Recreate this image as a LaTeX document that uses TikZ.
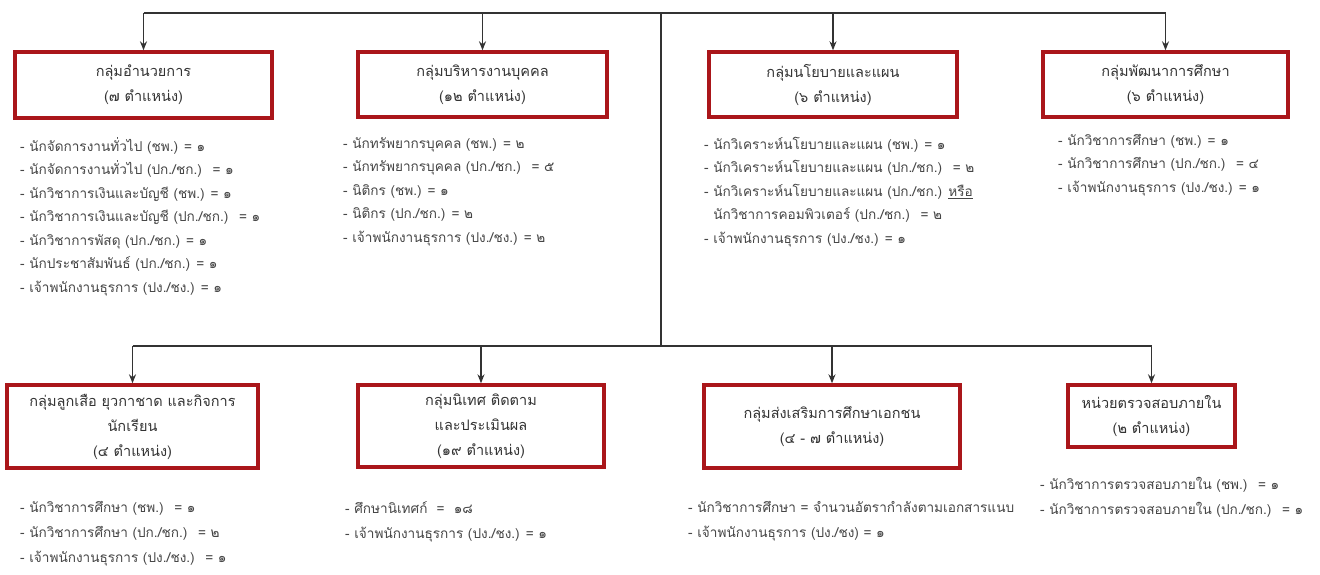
\documentclass[tikz,border=0pt]{standalone}
\usepackage{fontspec}
\newfontfamily\thaifont[Script=Thai]{Loma}
\usetikzlibrary{arrows.meta}
\definecolor{boxred}{RGB}{170,22,26}
\definecolor{txtgray}{RGB}{70,70,70}
\tikzset{
  grp/.style={draw=boxred, line width=3.4pt, align=center, inner sep=0pt,
    font=\thaifont\fontsize{14.5}{25}\selectfont, text=black!80},
  lst/.style={anchor=north west, align=left, inner sep=0pt,
    font=\thaifont\fontsize{13.6}{23.5}\selectfont, text=txtgray},
  lstb/.style={lst, font=\thaifont\fontsize{13.6}{25}\selectfont},
  conn/.style={line width=1.3pt, draw=black!80},
  arr/.style={conn, -{Stealth[length=9pt,width=7pt]}}
}
\begin{document}
\begin{tikzpicture}[x=1pt,y=-1pt]
\useasboundingbox[fill=white] (0,0) rectangle (1320,574);

% upper row
\node[grp, minimum width=257, minimum height=66] (1) at (143.5,85) {กลุ่มอำนวยการ\\(๗ ตำแหน่ง)};
\node[grp, minimum width=249, minimum height=65] (2) at (482.5,84.5) {กลุ่มบริหารงานบุคคล\\(๑๒ ตำแหน่ง)};
\node[grp, minimum width=248, minimum height=65] (3) at (833,84.5) {กลุ่มนโยบายและแผน\\(๖ ตำแหน่ง)};
\node[grp, minimum width=245, minimum height=65] (4) at (1165.5,84.5) {กลุ่มพัฒนาการศึกษา\\(๖ ตำแหน่ง)};

% lower row
\node[grp, minimum width=251, minimum height=83] (5) at (132.5,426.5) {กลุ่มลูกเสือ ยุวกาชาด และกิจการ\\นักเรียน\\(๔ ตำแหน่ง)};
\node[grp, minimum width=246, minimum height=82] (6) at (481,426) {กลุ่มนิเทศ ติดตาม\\และประเมินผล\\(๑๙ ตำแหน่ง)};
\node[grp, minimum width=256, minimum height=83] (7) at (832,426.5) {กลุ่มส่งเสริมการศึกษาเอกชน\\(๔ - ๗ ตำแหน่ง)};
\node[grp, minimum width=167, minimum height=62] (8) at (1151.5,416) {หน่วยตรวจสอบภายใน\\(๒ ตำแหน่ง)};

% position lists
\node[lst] (l1) at (20,137) {- นักจัดการงานทั่วไป (ชพ.) = ๑\\- นักจัดการงานทั่วไป (ปก./ชก.) \ = ๑\\- นักวิชาการเงินและบัญชี (ชพ.) = ๑\\- นักวิชาการเงินและบัญชี (ปก./ชก.) \ = ๑\\- นักวิชาการพัสดุ (ปก./ชก.) = ๑\\- นักประชาสัมพันธ์ (ปก./ชก.) = ๑\\- เจ้าพนักงานธุรการ (ปง./ชง.) = ๑};
\node[lst] (l2) at (343,137) {- นักทรัพยากรบุคคล (ชพ.) = ๒\\- นักทรัพยากรบุคคล (ปก./ชก.) \ = ๕\\- นิติกร (ชพ.) = ๑\\- นิติกร (ปก./ชก.) = ๒\\- เจ้าพนักงานธุรการ (ปง./ชง.) = ๒};
\node[lst] (l3) at (704,137) {- นักวิเคราะห์นโยบายและแผน (ชพ.) = ๑\\- นักวิเคราะห์นโยบายและแผน (ปก./ชก.) \ = ๒\\- นักวิเคราะห์นโยบายและแผน (ปก./ชก.) \underline{หรือ}\\\phantom{- }นักวิชาการคอมพิวเตอร์ (ปก./ชก.) \ = ๒\\- เจ้าพนักงานธุรการ (ปง./ชง.) = ๑};
\node[lst] (l4) at (1058,134) {- นักวิชาการศึกษา (ชพ.) = ๑\\- นักวิชาการศึกษา (ปก./ชก.) \ = ๔\\- เจ้าพนักงานธุรการ (ปง./ชง.) = ๑};
\node[lstb] (l5) at (20,501) {- นักวิชาการศึกษา (ชพ.) \ = ๑\\- นักวิชาการศึกษา (ปก./ชก.) \ = ๒\\- เจ้าพนักงานธุรการ (ปง./ชง.) \ = ๑};
\node[lstb] (l6) at (345,501) {- ศึกษานิเทศก์ \ = \ ๑๘\\- เจ้าพนักงานธุรการ (ปง./ชง.) = ๑};
\node[lstb] (l7) at (688,501) {- นักวิชาการศึกษา = จำนวนอัตรากำลังตามเอกสารแนบ\\- เจ้าพนักงานธุรการ (ปง./ชง) = ๑};
\node[lstb] (l8) at (1040,477) {- นักวิชาการตรวจสอบภายใน (ชพ.) \ = ๑\\- นักวิชาการตรวจสอบภายใน (ปก./ชก.) \ = ๑};

% connectors
\coordinate (top) at (661,13);
\coordinate (low) at (661,346);
\path[conn] (top) -- (low);
\path[conn] (1.north |- top) -- (4.north |- top);
\path[conn] (5.north |- low) -- (8.north |- low);
\path[arr] (1.north |- top) -- (1.north);
\path[arr] (2.north |- top) -- (2.north);
\path[arr] (3.north |- top) -- (3.north);
\path[arr] (4.north |- top) -- (4.north);
\path[arr] (5.north |- low) -- (5.north);
\path[arr] (6.north |- low) -- (6.north);
\path[arr] (7.north |- low) -- (7.north);
\path[arr] (8.north |- low) -- (8.north);
\end{tikzpicture}
\end{document}
